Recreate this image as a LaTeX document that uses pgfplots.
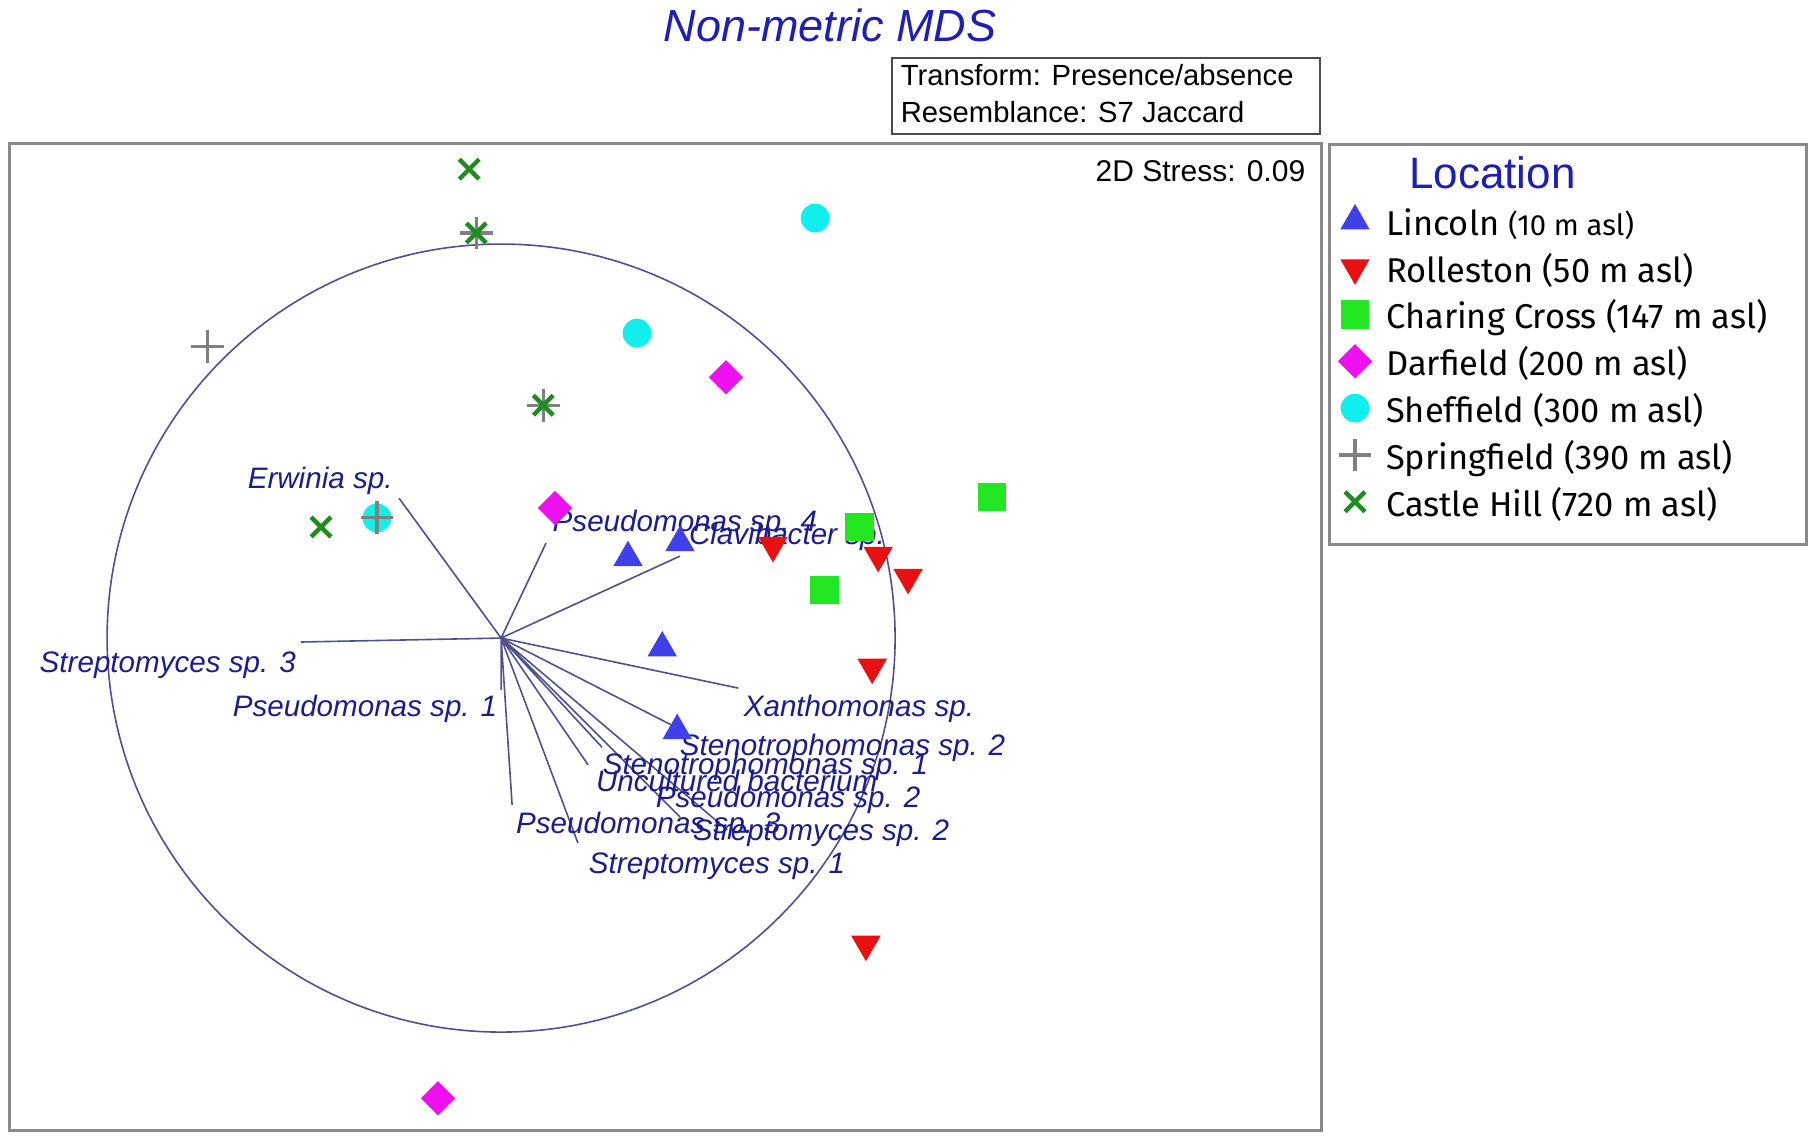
\documentclass[border=0pt]{standalone}
\usepackage{fontspec}
\setmainfont{Liberation Sans}
\newfontfamily\legfont{Fira Sans}
\usepackage{pgfplots}
\pgfplotsset{compat=1.18}

\definecolor{lincoln}{HTML}{4040EB}
\definecolor{rolleston}{HTML}{E81010}
\definecolor{charing}{HTML}{22E622}
\definecolor{darfield}{HTML}{EE10EE}
\definecolor{sheffield}{HTML}{10EEEE}
\definecolor{springfield}{HTML}{808080}
\definecolor{castle}{HTML}{1E8C1E}
\definecolor{navytext}{HTML}{1C1C8C}
\definecolor{veccol}{HTML}{50508F}
\definecolor{titleblue}{HTML}{1E1EB4}
\definecolor{framegray}{HTML}{8A8A8A}

\pgfplotsset{
  pt/.style={only marks,
    legend image code/.code={\draw[##1] plot coordinates {(0pt,0pt)};}},
}
\tikzset{
  lab/.style={anchor=base west, inner sep=0pt, text=navytext,
    font=\itshape\fontsize{7.4}{9}\selectfont},
}
\newcommand{\legrow}[1]{\rule[-3pt]{0pt}{11.7pt}#1}

\begin{document}
\begin{tikzpicture}
\useasboundingbox (0,0) rectangle (453pt,285.75pt);
\begin{axis}[
  at={(2.25pt,3pt)}, anchor=south west,
  scale only axis, width=328pt, height=246.75pt,
  xmin=-1.249, xmax=2.081, ymin=-1.251, ymax=1.254,
  ticks=none, clip=false,
  axis line style={framegray, line width=0.75pt},
  unbounded coords=jump,
  legend cell align=left,
  legend style={at={(axis description cs:1.0061,0.99899)}, anchor=north west,
    draw=none, fill=none, inner xsep=2.2pt, inner ysep=0pt,
    row sep=1.5pt, column sep=3.7pt, nodes={inner sep=0pt},
    font=\legfont\fontsize{8.6}{10}\selectfont},
]
% correlation circle and species vectors
\draw[veccol, line width=0.4pt] (axis cs:0,0) circle [radius=1];
\addplot[veccol, line width=0.4pt, forget plot] coordinates {
  (0,0) (-0.259,0.355) (nan,nan)
  (0,0) (0.114,0.241) (nan,nan)
  (0,0) (0.454,0.208) (nan,nan)
  (0,0) (-0.508,-0.010) (nan,nan)
  (0,0) (0.000,-0.132) (nan,nan)
  (0,0) (0.602,-0.127) (nan,nan)
  (0,0) (0.447,-0.228) (nan,nan)
  (0,0) (0.256,-0.277) (nan,nan)
  (0,0) (0.221,-0.322) (nan,nan)
  (0,0) (0.454,-0.454) (nan,nan)
  (0,0) (0.574,-0.487) (nan,nan)
  (0,0) (0.195,-0.520) (nan,nan)
  (0,0) (0.028,-0.424)
};

\addlegendimage{empty legend}
\addlegendentry{\hspace{5.75pt}\rule[-2.55pt]{0pt}{13.25pt}{\rmfamily\fontsize{11}{13}\selectfont\color{titleblue}Location}}

\addplot[pt, color=lincoln, mark=triangle*, mark size=3.85pt,
  mark options={fill=lincoln}] coordinates {
  (0.322,0.204) (0.454,0.242) (0.409,-0.025) (0.447,-0.235)
};
\addlegendentry{\legrow{Lincoln {\fontsize{7.3}{8}\selectfont(10 m asl)}}}

\addplot[pt, color=rolleston, mark=triangle*, mark size=3.85pt,
  mark options={fill=rolleston, rotate=180}] coordinates {
  (0.690,0.235) (0.957,0.210) (1.033,0.154) (0.942,-0.074) (0.926,-0.777)
};
\addlegendentry{\legrow{Rolleston (50 m asl)}}

\addplot[pt, color=charing, mark=square*, mark size=3.4pt,
  mark options={fill=charing}] coordinates {
  (1.246,0.358) (0.909,0.282) (0.820,0.122)
};
\addlegendentry{\legrow{Charing Cross (147 m asl)}}

\addplot[pt, color=darfield, mark=square*, mark size=2.83pt,
  mark options={fill=darfield, rotate=45}] coordinates {
  (0.571,0.662) (0.137,0.330) (-0.160,-1.168)
};
\addlegendentry{\legrow{Darfield (200 m asl)}}

\addplot[pt, color=sheffield, mark=*, mark size=3.4pt,
  mark options={fill=sheffield}] coordinates {
  (0.797,1.066) (0.345,0.774) (-0.315,0.305)
};
\addlegendentry{\legrow{Sheffield (300 m asl)}}

\addplot[pt, color=springfield, mark=+, mark size=4.1pt,
  mark options={line width=0.8pt}] coordinates {
  (-0.746,0.739) (-0.315,0.305) (-0.063,1.028) (0.107,0.591)
};
\addlegendentry{\legrow{Springfield (390 m asl)}}

\addplot[pt, color=castle, mark=x, mark size=3.5pt,
  mark options={line width=1.1pt}] coordinates {
  (-0.081,1.190) (-0.063,1.028) (0.107,0.591) (-0.457,0.282)
};
\addlegendentry{\legrow{Castle Hill (720 m asl)}}

% vector labels
\node[lab] at (axis cs:-0.645,0.380) {Erwinia sp.};
\node[lab] at (axis cs:0.129,0.271) {Pseudomonas sp. 4};
\node[lab] at (axis cs:0.475,0.238) {Clavibacter sp.};
\node[lab] at (axis cs:-1.173,-0.087) {Streptomyces sp. 3};
\node[lab] at (axis cs:-0.683,-0.199) {Pseudomonas sp. 1};
\node[lab] at (axis cs:0.614,-0.199) {Xanthomonas sp.};
\node[lab] at (axis cs:0.452,-0.298) {Stenotrophomonas sp. 2};
\node[lab] at (axis cs:0.256,-0.346) {Stenotrophomonas sp. 1};
\node[lab] at (axis cs:0.239,-0.389) {Uncultured bacterium};
\node[lab] at (axis cs:0.391,-0.430) {Pseudomonas sp. 2};
\node[lab] at (axis cs:0.036,-0.496) {Pseudomonas sp. 3};
\node[lab] at (axis cs:0.485,-0.513) {Streptomyces sp. 2};
\node[lab] at (axis cs:0.221,-0.597) {Streptomyces sp. 1};
\end{axis}

% title, info box, stress value and legend frame
\node[text=titleblue, font=\itshape\fontsize{11.25}{13}\selectfont] at (207.5pt,279.5pt) {Non-metric MDS};
\draw[black!70, line width=0.5pt] (223pt,252.25pt) rectangle (330pt,271.25pt);
\node[anchor=west, inner sep=0pt, font=\fontsize{7.3}{8}\selectfont] at (225pt,267pt) {Transform: Presence/absence};
\node[anchor=west, inner sep=0pt, font=\fontsize{7.3}{8}\selectfont] at (225pt,257.75pt) {Resemblance: S7 Jaccard};
\node[anchor=east, inner sep=0pt, font=\fontsize{7.5}{8}\selectfont] at (326.5pt,243pt) {2D Stress: 0.09};
\draw[framegray, line width=0.75pt] (332.25pt,149.5pt) rectangle (451.5pt,249.5pt);
\end{tikzpicture}
\end{document}
